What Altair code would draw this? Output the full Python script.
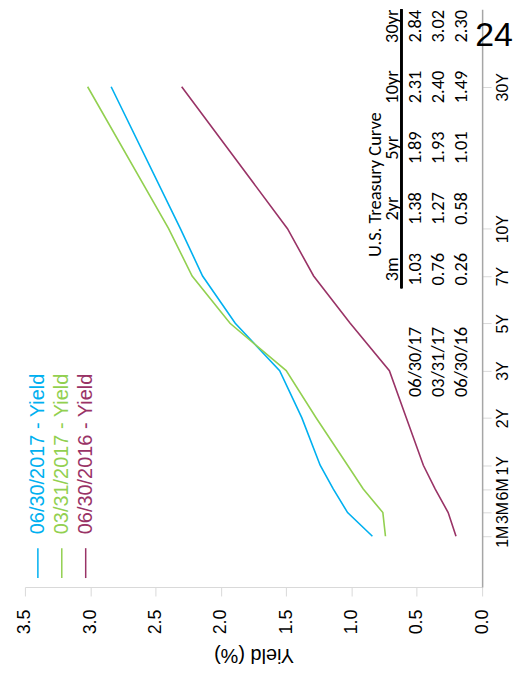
import altair as alt
import pandas as pd

# ---------------- data ----------------
tenors = ["1M", "3M", "6M", "1Y", "2Y", "3Y", "5Y", "7Y", "10Y", "30Y"]
tenor_years = [0.083, 0.25, 0.5, 1, 2, 3, 5, 7, 10, 30]
series = ["06/30/2017 - Yield", "03/31/2017 - Yield", "06/30/2016 - Yield"]
yield_2017_06 = [0.84, 1.03, 1.14, 1.24, 1.38, 1.55, 1.89, 2.14, 2.31, 2.84]
yield_2017_03 = [0.74, 0.76, 0.91, 1.03, 1.27, 1.50, 1.93, 2.22, 2.40, 3.02]
yield_2016_06 = [0.20, 0.26, 0.36, 0.45, 0.58, 0.71, 1.01, 1.29, 1.49, 2.30]
yield_ticks = [0.0, 0.5, 1.0, 1.5, 2.0, 2.5, 3.0, 3.5]

table_title = "U.S. Treasury Curve"
table_cols = ["3m", "2yr", "5yr", "10yr", "30yr"]
table_rows = ["06/30/17", "03/31/17", "06/30/16"]
table_vals = [
    [1.03, 1.38, 1.89, 2.31, 2.84],
    [0.76, 1.27, 1.93, 2.40, 3.02],
    [0.26, 0.58, 1.01, 1.49, 2.30],
]
page_number = "24"

# ---------------- styles / layout ----------------
colors = ["#00b0f0", "#92d050", "#993366"]
W, H = 459, 580
# piecewise maturity axis (slot layout of the original chart)
slot_units = [0, 0.5, 1, 1.5, 2.5, 3.5, 4.5, 5.5, 6.5, 9.5]
first_pos, slot_px = 529, 47.5
tenor_pos = [first_pos - s * slot_px for s in slot_units]

rows = []
for s, vals in zip(series, [yield_2017_06, yield_2017_03, yield_2016_06]):
    for t, yr, v in zip(tenors, tenor_years, vals):
        rows.append({"series": s, "tenor": t, "years": yr, "yield": v})
df = pd.DataFrame(rows)

color = alt.Color("series:N", scale=alt.Scale(domain=series, range=colors), legend=None)

years_code = "[" + ",".join(str(round(y * 1000)) for y in tenor_years) + "]"
names_code = "[" + ",".join("'" + t + "'" for t in tenors) + "]"
label_expr = f"{names_code}[indexof({years_code}, round(datum.value*1000))]"

lines = alt.Chart(df).mark_line(strokeWidth=1.6).encode(
    x=alt.X(
        "yield:Q",
        scale=alt.Scale(domain=[0, 3.5], reverse=True, nice=False, zero=False),
        axis=alt.Axis(
            title="Yield (%)", values=yield_ticks, format=".1f", grid=False,
            labelAngle=270, labelAlign="right", labelBaseline="middle",
            labelFont="Liberation Sans", labelFontSize=18, labelColor="#000000",
            labelPadding=13, labelFlush=False, labelOverlap=False,
            tickSize=9, tickColor="#d9d9d9", domainColor="#d9d9d9",
            titleAngle=180, titleBaseline="bottom", titleFont="Liberation Sans",
            titleFontSize=20, titleFontWeight="normal", titleColor="#000000",
            titlePadding=11,
        ),
    ),
    y=alt.Y(
        "years:Q",
        scale=alt.Scale(domain=[0] + tenor_years + [40], range=[H] + tenor_pos + [0],
                        nice=False, zero=False),
        axis=alt.Axis(
            orient="right", title=None, values=tenor_years, labelExpr=label_expr,
            grid=False, labelAngle=270, labelAlign="center", labelBaseline="top",
            labelFont="Liberation Sans", labelFontSize=16, labelColor="#000000",
            labelPadding=3, labelFlush=False, labelOverlap=False,
            tickSize=9, tickColor="#d9d9d9", domainColor="#a6a6a6", domainWidth=1.5,
        ),
    ),
    color=color,
    order=alt.Order("years:Q"),
)

# legend (rotated, drawn manually)
leg_df = pd.DataFrame({"series": series})
leg_x = alt.X("series:N", scale=alt.Scale(type="point", domain=series, range=[13, 61], padding=0), axis=None)
leg_rules = alt.Chart(leg_df).mark_rule(strokeWidth=1.5).encode(
    x=leg_x, y=alt.value(541), y2=alt.value(571), color=color
)
leg_text = alt.Chart(leg_df).mark_text(
    angle=270, align="left", baseline="middle", font="Liberation Sans", fontSize=20
).encode(x=leg_x, y=alt.value(527), text="series:N", color=color)

# table
cells = []
for r, vals in zip(table_rows, table_vals):
    for c, v in zip(table_cols, vals):
        cells.append({"row": r, "col": c, "val": f"{v:.2f}"})
cell_df = pd.DataFrame(cells)
row_x = alt.X("row:N", scale=alt.Scale(type="point", domain=table_rows, range=[392, 438], padding=0), axis=None)
col_y = alt.Y("col:N", scale=alt.Scale(type="point", domain=table_cols, range=[261, 17], padding=0), axis=None)
tfont = dict(font="Carlito, Lato", fontSize=18.5, color="#000000", angle=270, align="center", baseline="middle")

cell_text = alt.Chart(cell_df).mark_text(**tfont).encode(x=row_x, y=col_y, text="val:N")
row_text = alt.Chart(pd.DataFrame({"row": table_rows})).mark_text(**tfont).encode(
    x=row_x, y=alt.value(354), text="row:N")
head_text = alt.Chart(pd.DataFrame({"col": table_cols})).mark_text(**tfont).encode(
    x=alt.value(369), y=col_y, text="col:N")
head_rule = alt.Chart(pd.DataFrame({"col": table_cols})).mark_rule(strokeWidth=2, color="#000000").encode(
    x=alt.value(378), y=alt.value(0), y2=alt.value(280))
title_text = alt.Chart(pd.DataFrame({"t": [table_title]})).mark_text(**tfont).encode(
    x=alt.value(351), y=alt.value(176), text="t:N")

page_text = alt.Chart(pd.DataFrame({"t": [page_number]})).mark_text(
    font="Liberation Sans", fontSize=34, color="#000000", align="center", baseline="alphabetic"
).encode(x=alt.value(471), y=alt.value(37), text="t:N")

chart = alt.layer(
    lines, leg_rules, leg_text, cell_text, row_text, head_text, head_rule, title_text, page_text
).resolve_scale(x="independent", y="independent").properties(
    width=W, height=H,
    autosize=alt.AutoSizeParams(type="none"),
    padding={"left": 17, "top": 0, "right": 32, "bottom": 82},
).configure_view(strokeWidth=0)

chart.save("out.html", embed_options={"renderer": "svg", "actions": False})
